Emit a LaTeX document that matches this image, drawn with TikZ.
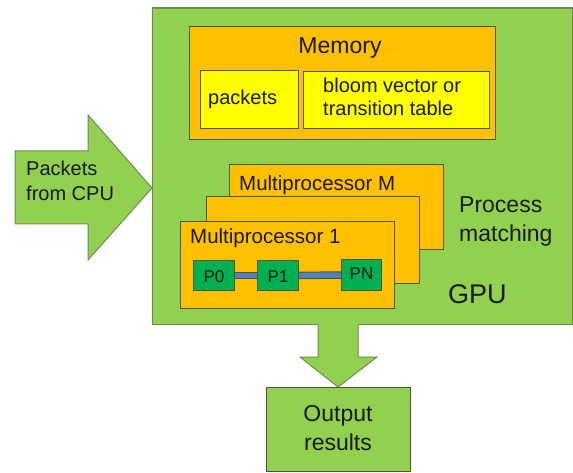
\documentclass[tikz,border=0pt]{standalone}
\usepackage{fontspec}
\setmainfont{Liberation Sans}
\definecolor{leaf}{RGB}{146,208,80}
\definecolor{amber}{RGB}{255,192,0}
\definecolor{lemon}{RGB}{255,255,0}
\definecolor{emerald}{RGB}{0,176,80}
\definecolor{steel}{RGB}{79,129,189}
\definecolor{edge}{RGB}{80,85,55}
\definecolor{gpuedge}{RGB}{110,140,80}
\definecolor{ink}{RGB}{25,25,25}
\tikzset{
  box/.style={draw=edge, line width=1pt, inner sep=0pt},
  orangebox/.style={box, fill=amber},
  yellowbox/.style={box, fill=lemon},
  procbox/.style={box, fill=emerald},
  bigarrow/.style={fill=leaf, draw=gpuedge, line width=1pt, line join=miter},
  bus/.style={draw=edge, line width=7.5pt},
  businner/.style={draw=steel, line width=5.5pt},
  txt/.style={text=ink, inner sep=0pt},
}
\newcommand{\fs}[2]{\fontsize{#1}{#2}\selectfont}
\begin{document}
\begin{tikzpicture}[x=1pt,y=-1pt]
\useasboundingbox (0,0) rectangle (573,473);
\fill[white] (0,0) rectangle (573,473);

% input arrow from the CPU
\draw[bigarrow] (15,151) -- (88,151) -- (88,115) -- (152,188) -- (88,260) -- (88,224) -- (15,224) -- cycle;
\node[txt, align=left, anchor=west, font=\fs{20}{25}] (cpu) at (26,181) {Packets\\from CPU};

% GPU
\node[draw=gpuedge, fill=leaf, line width=1.2pt, minimum width=420pt, minimum height=316pt, anchor=north west, inner sep=0pt] (gpu) at (152,7.5) {};

% output arrow
\draw[bigarrow] (318,324) -- (318,357) -- (300,357) -- (338,387) -- (377,357) -- (358,357) -- (358,324);
\node[draw=edge, fill=leaf, line width=1pt, minimum width=144pt, minimum height=84pt, anchor=north west, inner sep=0pt] (out) at (266,387) {};
\node[txt, align=center, font=\fs{23}{29}] (outtxt) at (338,428) {Output\\results};

% memory
\node[orangebox, minimum width=306pt, minimum height=113pt, anchor=north west] (mem) at (189,26) {};
\node[txt, font=\fs{23}{28}] (memtxt) at (340,48) {Memory};
\node[yellowbox, minimum width=98pt, minimum height=58pt, anchor=north west] (pkt) at (200,70) {};
\node[txt, font=\fs{20}{24}, anchor=west] (pkttxt) at (208,99) {packets};
\node[yellowbox, minimum width=186pt, minimum height=57pt, anchor=north west] (bloom) at (303,71) {};
\node[txt, align=left, font=\fs{20}{23}, anchor=north west] (bloomtxt) at (323,78) {bloom vector or\\transition table};

% stacked multiprocessors
\node[orangebox, minimum width=214pt, minimum height=85pt, anchor=north west] (mpM) at (229,164) {};
\node[txt, font=\fs{20.5}{24}, anchor=west] (mpMtxt) at (239,185) {Multiprocessor M};
\node[orangebox, minimum width=213pt, minimum height=87pt, anchor=north west] (mpmid) at (206,196) {};
\node[orangebox, minimum width=214pt, minimum height=87pt, anchor=north west] (mp1) at (180,221) {};
\node[txt, font=\fs{20.5}{24}, anchor=west] (mp1txt) at (190,238) {Multiprocessor 1};

% processors and the bus between them
\node[procbox, minimum width=41pt, minimum height=30pt, anchor=north west] (p0) at (193,260) {};
\node[procbox, minimum width=41pt, minimum height=30pt, anchor=north west] (p1) at (257,260) {};
\node[procbox, minimum width=40pt, minimum height=31pt, anchor=north west] (pn) at (341,259) {};
\draw[bus] (p0.east) -- (p1.west);
\draw[bus] (p1.east) -- (pn.west);
\draw[businner] (p0.east) -- (p1.west);
\draw[businner] (p1.east) -- (pn.west);
\node[txt, font=\fs{17}{20}] at ([yshift=-1pt]p0.center) {P0};
\node[txt, font=\fs{17}{20}] at ([yshift=-1pt]p1.center) {P1};
\node[txt, font=\fs{17}{20}] at ([yshift=1pt]pn.center) {PN};

% labels on the GPU
\node[txt, align=left, anchor=west, font=\fs{23}{29}] (proc) at (459,221) {Process\\matching};
\node[txt, anchor=west, font=\fs{27}{30}] (gputxt) at (448,294) {GPU};
\end{tikzpicture}
\end{document}
